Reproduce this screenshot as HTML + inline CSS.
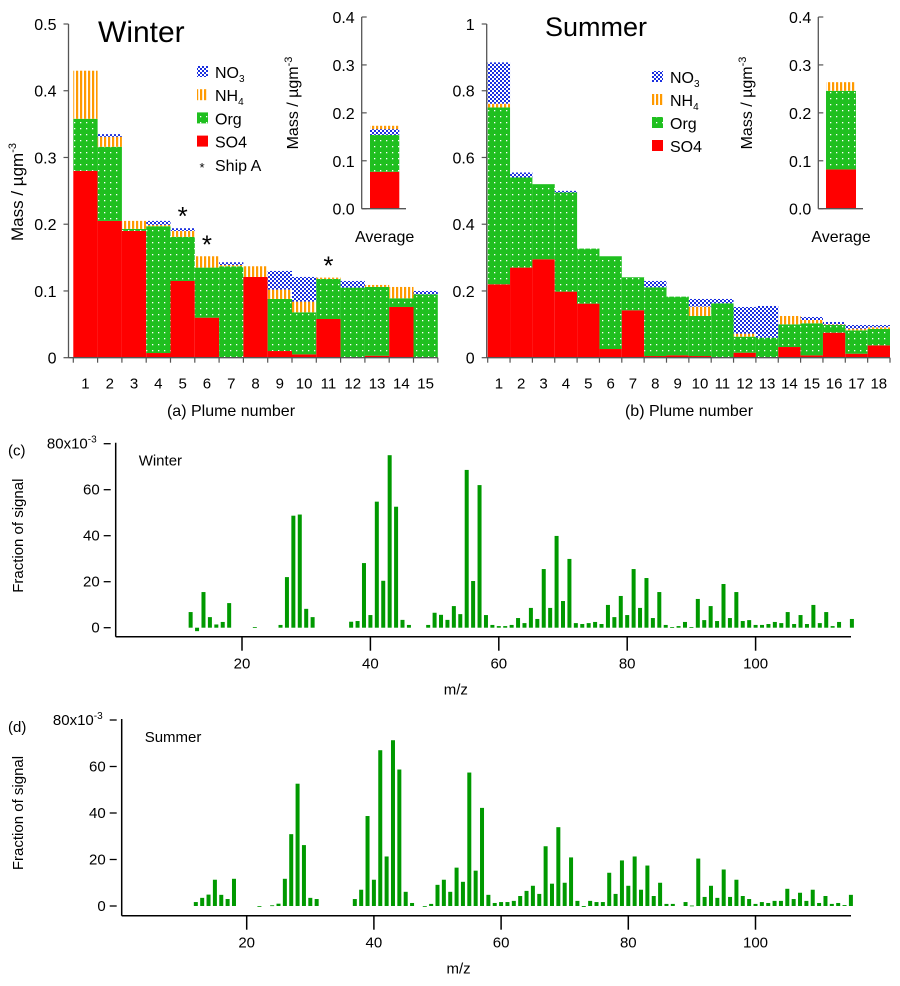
<!DOCTYPE html>
<html><head><meta charset="utf-8"><style>
body{margin:0;background:#fff}
svg{display:block;font-family:"Liberation Sans",sans-serif}
</style></head><body>
<svg id="fig" width="900" height="986" viewBox="0 0 900 986" xmlns="http://www.w3.org/2000/svg">
<defs>
<pattern id="pNO3" patternUnits="userSpaceOnUse" width="4" height="4"><rect width="4" height="4" fill="#fff"/><rect width="2" height="2" fill="#1a2fe0"/><rect x="2" y="2" width="2" height="2" fill="#1a2fe0"/></pattern>
<pattern id="pNH4" patternUnits="userSpaceOnUse" width="4" height="4"><rect width="4" height="4" fill="#fff"/><rect width="2.2" height="4" fill="#ff9a00"/></pattern>
<pattern id="pOrg" patternUnits="userSpaceOnUse" width="6" height="6"><rect width="6" height="6" fill="#1fbf1f"/><rect x="2" y="2" width="1.3" height="1.3" fill="#fff"/></pattern>
</defs>
<g id="root"></g>
</svg>
<script>
// ---- Panel (a) winter plume data ----
const winterSO4 = [0.28,0.205,0.19,0.007,0.115,0.06,0,0.121,0.01,0.005,0.058,0,0.003,0.076,0.001];
const winterOrg = [0.078,0.111,0.003,0.19,0.066,0.075,0.137,0,0.078,0.063,0.06,0.105,0.103,0.013,0.094];
const winterNH4 = [0.072,0.015,0.012,0.002,0.009,0.017,0.002,0.016,0.014,0.016,0.002,0,0.003,0.017,0];
const winterNO3 = [0,0.004,0,0.006,0.004,0,0.004,0,0.028,0.037,0,0.01,0,0,0.005];
const winterShipA = [5,6,11];
const winterAvg = [0.077,0.077,0.012,0.007]; // SO4, Org, NO3, NH4
// ---- Panel (b) summer plume data ----
const summerSO4 = [0.22,0.27,0.295,0.198,0.162,0.026,0.142,0.005,0.007,0.005,0,0.015,0.001,0.032,0.007,0.075,0.012,0.037];
const summerOrg = [0.53,0.27,0.225,0.297,0.165,0.278,0.099,0.206,0.176,0.12,0.163,0.048,0.059,0.068,0.096,0.023,0.07,0.049];
const summerNH4 = [0.011,0,0,0,0,0,0,0,0,0.028,0,0.009,0,0.025,0.01,0.002,0.005,0.005];
const summerNO3 = [0.124,0.015,0,0.005,0,0,0,0.019,0,0.023,0.013,0.08,0.095,0,0.009,0.007,0.011,0.007];
const summerAvg = [0.082,0.164,0,0.018];
// ---- Panel (c) winter spectrum ----
const winterMz = [12,13,14,15,16,17,18,22,26,27,28,29,30,31,37,38,39,40,41,42,43,44,45,46,49,50,51,52,53,54,55,56,57,58,59,60,61,62,63,64,65,66,67,68,69,70,71,72,73,74,75,76,77,78,79,80,81,82,83,84,85,86,87,88,89,90,91,92,93,94,95,96,97,98,99,100,101,102,103,104,105,106,107,108,109,110,111,112,113,115];
const winterSig = [6.8,-1.5,15.5,4.6,1.4,2.5,10.7,0.3,1.2,22,48.7,49.2,8.2,4.6,2.6,2.9,28.1,5.5,54.8,20.4,75,52.6,3.4,1.2,1.2,6.5,5.6,3.4,9.4,5.9,68.6,20.3,62,5.5,1.2,0.7,0.7,1.2,4.2,2,8.6,3.8,25.5,8.6,39.9,11.6,29.9,2,1.6,2,2.5,1.6,9.9,4.6,13.8,5.5,25.5,8.6,21.6,4.2,15.5,1.2,0.3,0.7,2.5,0.3,12.5,3.3,9.4,2.9,19,4.2,15.5,2.9,3.3,1.2,1.2,1.6,2.5,2,6.8,1.6,5.5,1.6,9.9,2,6.8,0.7,2.5,3.8];
// ---- Panel (d) summer spectrum ----
const summerMz = [12,13,14,15,16,17,18,22,24,25,26,27,28,29,30,31,37,38,39,40,41,42,43,44,45,46,48,49,50,51,52,53,54,55,56,57,58,59,60,61,62,63,64,65,66,67,68,69,70,71,72,73,74,75,76,77,78,79,80,81,82,83,84,85,86,87,89,90,91,92,93,94,95,96,97,98,99,100,101,102,103,104,105,106,107,108,109,110,111,112,113,114,115];
const summerSig = [1.7,3.5,4.9,11.3,4.8,3,11.7,-0.3,0.3,1,11.7,30.9,52.6,26.2,3.5,3,3,7,38.7,11.3,67,21.3,71.3,58.7,6.1,1.3,-0.3,0.9,9.1,11.3,6.1,16.5,10.4,57.4,15.2,42.2,4.8,1.3,1.7,1.7,2.2,4.3,6.5,8.7,5.2,25.7,9.6,33.9,10,20.9,2.2,-0.4,2.2,1.7,1.7,14.3,5.2,19.6,8.7,21.3,7,17.4,4.3,10,0.9,0.9,1.7,0.2,20.4,3.9,8.7,3.5,15.7,3.9,11.3,4.3,3,0.9,1.7,1.3,2.2,2.2,7.4,3,5.7,2.2,7,1.3,4.3,0.9,1.3,0.4,4.8];

const NS="http://www.w3.org/2000/svg";
const root=document.getElementById('root');
function mk(tag,attrs,parent,text){const e=document.createElementNS(NS,tag);for(const k in attrs)e.setAttribute(k,attrs[k]);if(text!==undefined)e.textContent=text;(parent||root).appendChild(e);return e;}
function txt(x,y,s,size,anchor,name,parent){const t=mk('text',{x:x,y:y,'font-size':size,'text-anchor':anchor||'start',fill:'#000'},parent,s);


return t;}
const FILL={SO4:'#ff0000',Org:'url(#pOrg)',NH4:'url(#pNH4)',NO3:'url(#pNO3)'};

function stackedPanel(o){
  const g=mk('g',{});
  
  
  const n=o.so4.length;
  const xPos=i=>o.x0+i*o.bw;
  const yPos=v=>o.y0-v/o.ymax*(o.y0-o.ytop);
  for(let i=0;i<n;i++){
    let base=0;
    const comps=[['SO4',o.so4[i]],['Org',o.org[i]],['NH4',o.nh4[i]],['NO3',o.no3[i]]];
    for(const [k,v] of comps){
      if(v<=0)continue;
      const r=mk('rect',{x:xPos(i),y:yPos(base+v),width:o.bw,height:yPos(base)-yPos(base+v),fill:FILL[k]},g);
      
      
      base+=v;
    }
  }
  mk('line',{x1:o.ax,y1:o.ytop,x2:o.ax,y2:o.y0,stroke:'#555','stroke-width':1.3},g);
  mk('line',{x1:o.ax,y1:o.y0,x2:o.x0+n*o.bw,y2:o.y0,stroke:'#555','stroke-width':1.3},g);
  for(let i=0;i<=n;i++) mk('line',{x1:xPos(i),y1:o.y0,x2:xPos(i),y2:o.y0+5,stroke:'#555','stroke-width':1.2},g);
  for(let i=0;i<n;i++) txt(xPos(i)+o.bw/2,o.y0+31,String(i+1),15,'middle','x-tick-label',g);
  o.ticks.forEach((t,j)=>{const y=yPos(o.tickVals[j]);
    mk('line',{x1:o.ax-5,y1:y,x2:o.ax,y2:y,stroke:'#555','stroke-width':1.2},g);
    txt(o.ax-12,y+6,t,16,'end','y-tick-label',g);});
  return {g,yPos};
}

function avgInset(o){
  const g=mk('g',{});
  
  
  const yPos=v=>208.7-v/0.4*(208.7-17);
  let base=0;
  const keys=['SO4','Org','NO3','NH4'];
  o.vals.forEach((v,j)=>{if(v<=0)return;
    const r=mk('rect',{x:o.bx,y:yPos(base+v),width:o.bwid,height:yPos(base)-yPos(base+v),fill:FILL[keys[j]]},g);
    
    
    base+=v;});
  mk('line',{x1:o.ax,y1:17,x2:o.ax,y2:208.7,stroke:'#555','stroke-width':1.3},g);
  mk('line',{x1:o.ax,y1:208.7,x2:o.axEnd,y2:208.7,stroke:'#555','stroke-width':1.3},g);
  ['0.0','0.1','0.2','0.3','0.4'].forEach((t,j)=>{const y=yPos(j*0.1);
    mk('line',{x1:o.ax,y1:y,x2:o.ax+5,y2:y,stroke:'#555','stroke-width':1.2},g);
    txt(o.ax-7,y+6,t,16,'end','inset-y-tick-label',g);});
  const yl=txt(0,0,'',16,'middle','inset-y-axis-title',g);
  yl.setAttribute('transform','translate('+o.ylx+',103) rotate(-90)');
  yl.innerHTML='<tspan>Mass / µgm</tspan><tspan dy="-6" font-size="11">-3</tspan>';
  txt((o.bx+o.bwid/2),242,'Average',16,'middle','inset-x-label',g);
}

function legend(x,y0,dy,hasShip){
  const g=mk('g',{});
  
  
  const items=[['NO3','NO','3'],['NH4','NH','4'],['Org','Org',''],['SO4','SO4','']];
  items.forEach((it,j)=>{const y=y0+j*dy;
    const r=mk('rect',{x:x,y:y-6,width:11,height:11,fill:FILL[it[0]]},g);
    
    
    const t=txt(x+18,y+6,'',16,'start','legend-entry',g);
    t.innerHTML=it[1]+(it[2]?'<tspan dy="4" font-size="10">'+it[2]+'</tspan>':'');});
  if(hasShip){const y=y0+4*dy;
    txt(x+5,y+7,'*',13,'middle','legend-ship-marker',g);
    txt(x+18,y+6,'Ship A',16,'start','legend-entry',g);}
}

const pa=stackedPanel({name:'winter-plume-chart',so4:winterSO4,org:winterOrg,nh4:winterNH4,no3:winterNO3,x0:73.3,bw:24.3,ax:68.5,y0:357.7,ytop:24,ymax:0.5,ticks:['0','0.1','0.2','0.3','0.4','0.5'],tickVals:[0,0.1,0.2,0.3,0.4,0.5]});
winterShipA.forEach(p=>{const top=winterSO4[p-1]+winterOrg[p-1]+winterNH4[p-1]+winterNO3[p-1];
  txt(73.3+(p-0.5)*24.3,pa.yPos(top)-3,'*',26,'middle','ship-a-marker');});
txt(98,42,'Winter',30,'start','winter-title');
let yla=txt(0,0,'',17,'middle','y-axis-title');
yla.setAttribute('transform','translate(23,192) rotate(-90)');
yla.innerHTML='<tspan>Mass / µgm</tspan><tspan dy="-7" font-size="11">-3</tspan>';
legend(197,72,23.2,true);
avgInset({name:'winter-average-inset',vals:winterAvg,ax:361.7,axEnd:406,bx:370,bwid:29.3,ylx:298});
txt(231,416,'(a) Plume number',16,'middle','x-axis-title-a');

const pb=stackedPanel({name:'summer-plume-chart',so4:summerSO4,org:summerOrg,nh4:summerNH4,no3:summerNO3,x0:487.7,bw:22.35,ax:486.7,y0:357.7,ytop:24,ymax:1,ticks:['0','0.2','0.4','0.6','0.8','1'],tickVals:[0,0.2,0.4,0.6,0.8,1]});
txt(545,36,'Summer',27,'start','summer-title');
legend(652,77,23,false);
avgInset({name:'summer-average-inset',vals:summerAvg,ax:818.3,axEnd:863,bx:826,bwid:30,ylx:752});
txt(689,416,'(b) Plume number',16,'middle','x-axis-title-b');

function spectrum(o){
  const g=mk('g',{});
  
  
  const xS=m=>o.x20+(m-20)*o.px;
  const yS=v=>o.y0-v*o.py;
  o.mz.forEach((m,i)=>{const v=o.sig[i];
    const r=mk('rect',{x:xS(m)-2,y:Math.min(yS(v),o.y0),width:4,height:Math.max(Math.abs(yS(v)-o.y0),0.8),fill:'#009900'},g);
    
    });
  mk('line',{x1:o.ax,y1:o.y0-80*o.py-1,x2:o.ax,y2:o.base,stroke:'#000','stroke-width':1.5},g);
  mk('line',{x1:o.ax,y1:o.base,x2:851,y2:o.base,stroke:'#000','stroke-width':1.5},g);
  [0,20,40,60,80].forEach(v=>{const y=yS(v);
    mk('line',{x1:o.ax-12,y1:y,x2:o.ax-5,y2:y,stroke:'#000','stroke-width':1.3},g);
    if(v<80)txt(o.ax-16,y+5,String(v),15,'end','y-tick-label',g);});
  const t80=txt(o.ax-19,yS(80)+5,'',15,'end','y-tick-label-top',g);
  t80.innerHTML='80x10<tspan dy="-6" font-size="10">-3</tspan>';
  [20,40,60,80,100].forEach(m=>{const x=xS(m);
    mk('line',{x1:x,y1:o.base,x2:x,y2:o.base+14,stroke:'#000','stroke-width':1.5},g);
    txt(x,o.base+32,String(m),15,'middle','x-tick-label',g);});
  txt(o.x20+33*o.px+2,o.base+58,'m/z',15,'middle','x-axis-title',g);
  const fl=txt(0,0,'Fraction of signal',15,'middle','y-axis-title',g);
  fl.setAttribute('transform','translate(23,'+(o.y0-40*o.py)+') rotate(-90)');
  txt(8,o.y0-80*o.py+12,o.tag,15,'start','panel-label',g);
  txt(o.ax+23,o.y0-80*o.py+22,o.title,15,'start','spectrum-title',g);
}
spectrum({name:'winter-spectrum',mz:winterMz,sig:winterSig,x20:242,px:6.42,y0:627.7,py:2.3,ax:115.7,base:636.7,tag:'(c)',title:'Winter'});
spectrum({name:'summer-spectrum',mz:summerMz,sig:summerSig,x20:246.7,px:6.36,y0:906,py:2.325,ax:121.7,base:915.7,tag:'(d)',title:'Summer'});
</script>
</body></html>
